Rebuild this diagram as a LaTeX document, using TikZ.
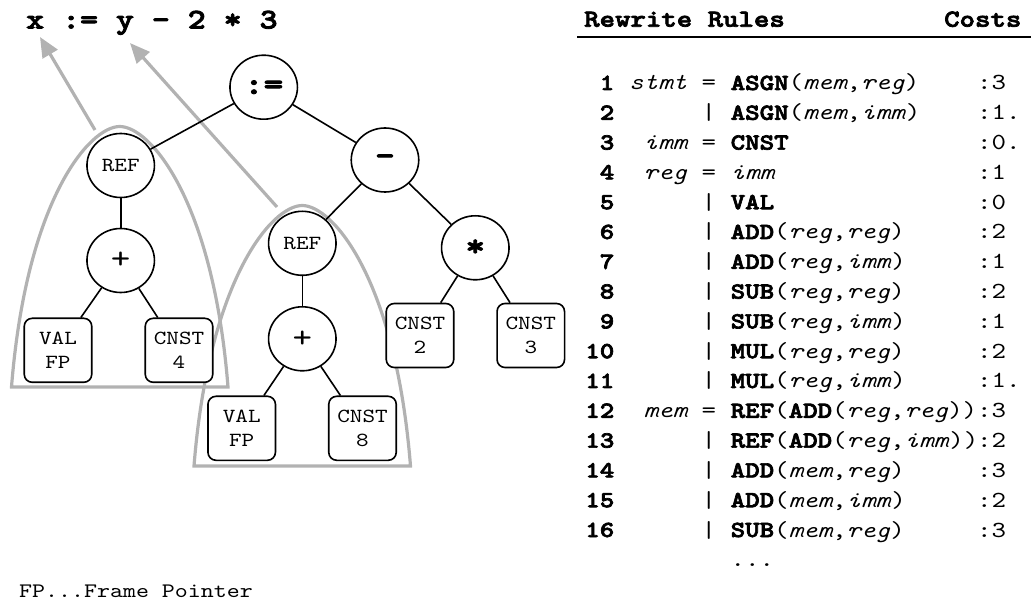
\documentclass[tikz,border=0pt]{standalone}
\usepackage{fontspec}
\usetikzlibrary{arrows.meta,shapes.geometric}

% typewriter face widened to a Courier-like pitch, with a heavier bold
\newfontfamily\cmono{lmmono10-regular.otf}[
  FakeStretch=1.2,
  BoldFont=lmmonolt10-bold.otf,
  BoldFeatures={FakeBold=3},
  ItalicFont=lmmono10-italic.otf]

\definecolor{archgray}{RGB}{178,178,178}
% typewriter face at a given size / baselineskip
\newcommand\mono[2]{\cmono\fontsize{#1}{#2}\selectfont}

% one line of the rule table: #1 number, #2 x of the left side, #3 left side,
% #4 "=" or "|", #5 right side, #6 cost
\newcommand\rewrite[6]{%
  \node[numtxt]  (num#1)  at (614.5,{90+29.8*(#1-1)}) {#1};
  \node[lhstxt]  (lhs#1)  at (#2,{90+29.8*(#1-1)})    {#3};
  \node[plaintxt](sym#1)  at (701.5,{90+29.8*(#1-1)}) {#4};
  \node[plaintxt](rhs#1)  at (730.5,{90+29.8*(#1-1)}) {#5};
  \node[plaintxt](cost#1) at (977,{90+29.8*(#1-1)})   {#6};
}

\begin{document}
\begin{tikzpicture}[x=1pt,y=-1pt,
  opnode/.style={ellipse, draw, fill=white, line width=1.6pt,
    minimum width=67.5pt, minimum height=64pt, inner sep=0pt},
  oplabel/.style={opnode, font=\mono{20}{24}},
  opsym/.style={opnode, font=\mono{31}{31}\bfseries},
  opplus/.style={opnode, font=\mono{31}{31}},
  leaf/.style={rectangle, rounded corners=8pt, draw, fill=white, line width=1.6pt,
    minimum width=67.5pt, minimum height=64pt, inner sep=0pt, align=center,
    font=\mono{20}{24}},
  treeline/.style={line width=1.6pt},
  archline/.style={draw=archgray, line width=3.2pt},
  grayarrow/.style={draw=archgray, line width=3.2pt,
    -{Triangle[length=20pt,width=17pt]}},
  numtxt/.style={anchor=base east, inner sep=0pt, font=\mono{23}{23}\bfseries},
  lhstxt/.style={anchor=base west, inner sep=0pt, font=\mono{23}{23}\itshape},
  plaintxt/.style={anchor=base west, inner sep=0pt, font=\mono{23}{23}},
  codearch/.pic={
    \draw[archline] (0,0) .. controls (15,-188) and (78.25,-260.5) .. (108.25,-260.5)
      .. controls (138.25,-260.5) and (201.5,-188) .. (216.5,0) -- cycle;
  }
]
\useasboundingbox (0,0) rectangle (1031,601);

% source statement
\node[anchor=base west, inner sep=0pt, font=\mono{28.5}{28.5}\bfseries]
  (expr) at (26,28.5) {x := y - 2 * 3};

% subtrees covering the variables x and y
\pic at (11.5,387) {codearch};
\pic at (194,466) {codearch};
\coordinate (xfoot) at (95,130);
\coordinate (xhead) at (40,37);
\coordinate (yfoot) at (277,207);
\coordinate (yhead) at (130,43);
\draw[grayarrow] (xfoot) -- (xhead);
\draw[grayarrow] (yfoot) -- (yhead);

% expression tree
\node[opsym]   (assign) at (263.7,87.2)  {:=};
\node[opsym]   (minus)  at (385,160)     {-};
\node[oplabel] (refL)   at (120.7,165.5) {REF};
\node[opplus]  (plusL)  at (120.7,260.5) {+};
\node[leaf]    (valL)   at (58,350.3)    {VAL\\FP};
\node[leaf]    (cnst4)  at (179,350.3)   {CNST\\4};
\node[oplabel] (refR)   at (302.3,243.3) {REF};
\node[opplus]  (plusR)  at (302.3,338.8) {+};
\node[leaf]    (valR)   at (241.7,428.3) {VAL\\FP};
\node[leaf]    (cnst8)  at (362.5,428.3) {CNST\\8};
\node[opsym]   (mul)    at (475.3,247.8) {*};
\node[leaf]    (cnst2)  at (420,335.5)   {CNST\\2};
\node[leaf]    (cnst3)  at (530.8,335.5) {CNST\\3};

\draw[treeline] (assign) -- (refL);
\draw[treeline] (assign) -- (minus);
\draw[treeline] (refL) -- (plusL);
\draw[treeline] (plusL) -- (valL);
\draw[treeline] (plusL) -- (cnst4);
\draw[treeline] (minus) -- (refR);
\draw[treeline] (minus) -- (mul);
\draw[treeline] (refR) -- (plusR);
\draw[treeline] (plusR) -- (valR);
\draw[treeline] (plusR) -- (cnst8);
\draw[treeline] (mul) -- (cnst2);
\draw[treeline] (mul) -- (cnst3);

% rule table
\node[anchor=base west, inner sep=0pt, font=\mono{24.5}{24.5}\bfseries]
  (hrules) at (584,26.7) {Rewrite Rules};
\node[anchor=base west, inner sep=0pt, font=\mono{24.5}{24.5}\bfseries]
  (hcosts) at (944,26.7) {Costs};
\draw[line width=2.2pt] (577,36.7) -- (1031,36.7);

\rewrite{1}{629}{stmt}{=}{\textbf{ASGN}(\textit{mem},\textit{reg})}{:3}
\rewrite{2}{643.5}{}{|}{\textbf{ASGN}(\textit{mem},\textit{imm})}{:1.}
\rewrite{3}{643.5}{imm}{=}{\textbf{CNST}}{:0.}
\rewrite{4}{643.5}{reg}{=}{\textit{imm}}{:1}
\rewrite{5}{643.5}{}{|}{\textbf{VAL}}{:0}
\rewrite{6}{643.5}{}{|}{\textbf{ADD}(\textit{reg},\textit{reg})}{:2}
\rewrite{7}{643.5}{}{|}{\textbf{ADD}(\textit{reg},\textit{imm})}{:1}
\rewrite{8}{643.5}{}{|}{\textbf{SUB}(\textit{reg},\textit{reg})}{:2}
\rewrite{9}{643.5}{}{|}{\textbf{SUB}(\textit{reg},\textit{imm})}{:1}
\rewrite{10}{643.5}{}{|}{\textbf{MUL}(\textit{reg},\textit{reg})}{:2}
\rewrite{11}{643.5}{}{|}{\textbf{MUL}(\textit{reg},\textit{imm})}{:1.}
\rewrite{12}{643.5}{mem}{=}{\textbf{REF}(\textbf{ADD}(\textit{reg},\textit{reg}))}{:3}
\rewrite{13}{643.5}{}{|}{\textbf{REF}(\textbf{ADD}(\textit{reg},\textit{imm}))}{:2}
\rewrite{14}{643.5}{}{|}{\textbf{ADD}(\textit{mem},\textit{reg})}{:3}
\rewrite{15}{643.5}{}{|}{\textbf{ADD}(\textit{mem},\textit{imm})}{:2}
\rewrite{16}{643.5}{}{|}{\textbf{SUB}(\textit{mem},\textit{reg})}{:3}
\node[plaintxt] (more) at (730.5,566.8) {...};

% footnote
\node[anchor=base west, inner sep=0pt, font=\mono{20.6}{20.6}]
  (note) at (19,597) {FP...Frame Pointer};
\end{tikzpicture}
\end{document}
